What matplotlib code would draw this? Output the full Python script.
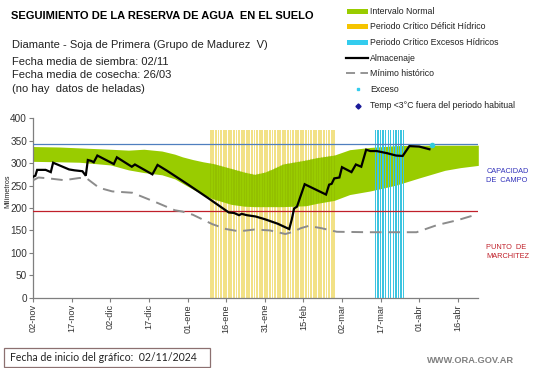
import matplotlib
matplotlib.use("Agg")
import matplotlib.pyplot as plt
from matplotlib.patches import Rectangle
from matplotlib.lines import Line2D
import numpy as np
import pandas as pd

# ---------------- data ----------------
start_date = "2024-11-02"
tick_days = [0, 15, 30, 45, 60, 75, 90, 105, 120, 135, 150, 165]
tick_labels = ["02-nov", "17-nov", "02-dic", "17-dic", "01-ene", "16-ene",
               "31-ene", "15-feb", "02-mar", "17-mar", "01-abr", "16-abr"]

band_days = [0, 10, 18, 30, 37, 43, 50, 55, 58, 62, 66, 70, 77, 82, 86, 90,
             93, 97, 106, 110, 117, 123, 131, 141, 150, 160, 166, 173]
band_upper = [337, 336, 334, 331, 329, 331, 327, 320, 314, 308, 303, 299, 288, 280, 275, 280,
              287, 298, 307, 312, 318, 330, 335, 339, 340, 340, 340, 340]
band_lower = [304, 303, 302, 296, 285, 279, 274, 265, 255, 242, 230, 220, 208, 204, 203, 203,
              203, 203, 205, 210, 217, 230, 238, 251, 267, 284, 290, 295]

alm_days = [0, 0.8, 1.5, 4.8, 6.8, 7.7, 13.9, 16, 19.1, 20.4, 21.2, 22.5, 23.5, 24.9,
            31.3, 32.5, 38.3, 39.5, 46.3, 48.3, 52, 60, 68, 76, 78, 80, 81, 83, 86.5,
            90, 95, 99.5, 100.5, 101.4, 102.5, 105.5, 113.8, 115, 116, 117, 119, 120,
            123.7, 125.4, 127.5, 129.4, 131, 133.5, 137.7, 141, 143.6, 146.2, 150, 154]
alm_vals = [270, 272, 285, 285, 280, 301, 286, 284, 282, 272, 307, 305, 302, 317,
            298, 313, 292, 297, 275, 296, 283, 253, 222, 190, 189, 184, 187, 184, 181,
            175, 165, 153, 175, 199, 203, 253, 230, 252, 254, 266, 268, 291,
            280, 297, 292, 330, 327, 327, 322, 317, 316, 338, 337, 331]

min_days = [0, 2, 6, 12, 18, 21, 25.6, 30.7, 38.5, 47.6, 55, 58, 62, 69.6, 75, 80, 86,
            92, 98, 101, 104, 107, 112, 118, 130, 149, 157, 165, 172]
min_vals = [262, 268, 266, 262, 267, 265, 245, 237, 234, 213, 195, 192, 185, 164, 153, 148, 152,
            150, 142, 147, 155, 160, 155, 147, 146, 146, 162, 173, 185]

exceso_days = [155]
exceso_vals = [341]

deficit_period = ("2025-01-10", "2025-02-27")
excess_period = ("2025-03-15", "2025-03-26")
period_top = 375

capacidad_campo = 342
punto_marchitez = 193

# ---------------- figure ----------------
W, H = 541, 368
fig = plt.figure(figsize=(W / 100, H / 100), dpi=100)
FONT = "Liberation Sans"


def fx(px):
    return px / W


def fy(py):
    return 1 - py / H


ax = fig.add_axes([fx(33.3), fy(297.7), fx(478.3) - fx(33.3), fy(118.3) - fy(297.7)])
ax.set_xlim(0, 173)
ax.set_ylim(0, 400)

t0 = pd.Timestamp(start_date)


def period_days(p):
    a = (pd.Timestamp(p[0]) - t0).days
    b = (pd.Timestamp(p[1]) - t0).days
    return np.arange(a, b + 1)


# green band
band = ax.fill_between(band_days, band_lower, band_upper, color="#99cc00",
                       linewidth=0, zorder=2)

# deficit critical period stripes
dd = period_days(deficit_period)
ax.bar(dd, [period_top] * len(dd), width=0.72, color="#f2e186", linewidth=0,
       zorder=1, align="center")
over = ax.bar(dd, [period_top] * len(dd), width=0.5, color="#7a8a00", alpha=0.18,
              linewidth=0, zorder=3, align="center")
bpath = band.get_paths()[0]
for p in over.patches:
    p.set_clip_path(bpath, ax.transData)

# excess critical period stripes
ed = period_days(excess_period)
ax.bar(ed, [period_top] * len(ed), width=0.5, color="#3cc4e0", alpha=1.0,
       linewidth=0, zorder=3, align="center")

# reference lines
ax.axhline(capacidad_campo, color="#4f7fbf", lw=0.9, zorder=4)
ax.axhline(punto_marchitez, color="#c0202a", lw=0.9, zorder=4)

# series
ax.plot(min_days, min_vals, color="#8c8c8c", lw=1.4, dashes=(6, 3.5), zorder=5)
ax.plot(alm_days, alm_vals, color="black", lw=1.6, zorder=6, solid_joinstyle="miter")
ax.plot(exceso_days, exceso_vals, "o", color="#33ccdd", ms=3, zorder=7)

# axes styling
for s in ["top", "right"]:
    ax.spines[s].set_visible(False)
for s in ["left", "bottom"]:
    ax.spines[s].set_color("#7f7f7f")
    ax.spines[s].set_linewidth(0.9)
ax.set_yticks(range(0, 401, 50))
ax.set_xticks(tick_days)
ax.set_xticklabels(tick_labels, rotation=90, fontsize=6.6, family=FONT, color="#333333")
for lab in ax.get_yticklabels():
    lab.set_fontsize(7.2)
    lab.set_family(FONT)
    lab.set_color("#333333")
ax.tick_params(axis="both", direction="out", length=3, width=0.8, color="#7f7f7f", pad=1.5)

fig.text(fx(7.5), fy(191), "Milímetros", rotation=90, fontsize=5.2, family=FONT,
         ha="center", va="center", color="#222222")

# right-side labels
fig.text(fx(486.5), fy(172.7), "CAPACIDAD", fontsize=5.3, family=FONT, color="#3333bb", va="baseline")
fig.text(fx(486.5), fy(181.7), "DE  CAMPO", fontsize=5.3, family=FONT, color="#3333bb", va="baseline")
fig.text(fx(486.5), fy(249.3), "PUNTO  DE", fontsize=5.3, family=FONT, color="#c0202a", va="baseline")
fig.text(fx(486.5), fy(258.3), "MARCHITEZ", fontsize=5.3, family=FONT, color="#c0202a", va="baseline")

# header texts
fig.text(fx(11), fy(19.3), "SEGUIMIENTO DE LA RESERVA DE AGUA  EN EL SUELO", fontsize=8,
         weight="bold", family=FONT, va="baseline", color="black")
fig.text(fx(12), fy(47.7), "Diamante - Soja de Primera (Grupo de Madurez  V)", fontsize=8,
         family=FONT, va="baseline", color="#222222")
fig.text(fx(12), fy(65), "Fecha media de siembra: 02/11", fontsize=8, family=FONT,
         va="baseline", color="#222222")
fig.text(fx(12), fy(78.3), "Fecha media de cosecha: 26/03", fontsize=8, family=FONT,
         va="baseline", color="#222222")
fig.text(fx(12), fy(91.6), "(no hay  datos de heladas)", fontsize=8, family=FONT,
         va="baseline", color="#222222")

# legend (manual)
leg_rows = [11.7, 26.7, 42.3, 58.3, 73.3, 89.3, 106]
leg_texts = ["Intervalo Normal", "Periodo Crítico Déficit Hídrico",
             "Periodo Crítico Excesos Hídricos", "Almacenaje", "Mínimo histórico",
             "Exceso", "Temp <3°C fuera del periodo habitual"]
patch_cols = ["#99cc00", "#f5c400", "#33ccee"]
for i, c in enumerate(patch_cols):
    fig.patches.append(Rectangle((fx(346.7), fy(leg_rows[i] + 2.2)), fx(368.3) - fx(346.7),
                                 4.4 / H, transform=fig.transFigure, color=c, linewidth=0))
fig.lines.append(Line2D([fx(345.7), fx(368.3)], [fy(leg_rows[3])] * 2, color="black", lw=1.6,
                        transform=fig.transFigure))
fig.lines.append(Line2D([fx(346), fx(368.3)], [fy(leg_rows[4])] * 2, color="#8c8c8c", lw=1.3,
                        dashes=(5, 3), transform=fig.transFigure))
fig.lines.append(Line2D([fx(358.3)], [fy(leg_rows[5])], marker="s", ms=2, color="#33ccee",
                        linestyle="none", transform=fig.transFigure))
fig.lines.append(Line2D([fx(358.3)], [fy(leg_rows[6])], marker="D", ms=2.6, color="#1a1a99",
                        linestyle="none", transform=fig.transFigure))
for i, t in enumerate(leg_texts):
    xx = 369.5 if i < 5 else 370.5
    fig.text(fx(xx), fy(leg_rows[i]), t, fontsize=6.3, family=FONT, va="center",
             color="#222222")

# footer
fig.patches.append(Rectangle((fx(4), fy(367)), fx(210) - fx(4), 19 / H,
                             transform=fig.transFigure, facecolor="white",
                             edgecolor="#8c7070", linewidth=0.9))
fig.text(fx(10), fy(357.5), "Fecha de inicio del gráfico:  02/11/2024", fontsize=7.6,
         family="Lato", va="center", color="#222222")
fig.text(fx(514.5), fy(360.5), "WWW.ORA.GOV.AR", fontsize=6.7, weight="bold", family=FONT,
         ha="right", va="center", color="#808080")

fig.savefig("out.png", dpi=100)
